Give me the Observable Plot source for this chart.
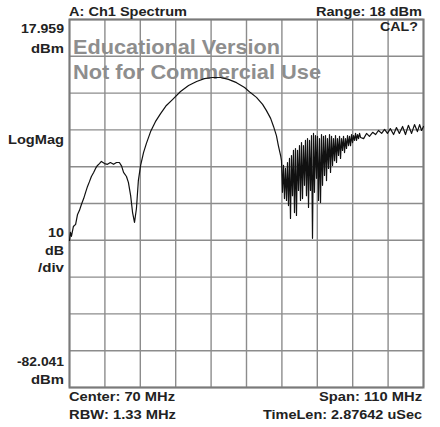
<!DOCTYPE html>
<html><head><meta charset="utf-8">
<script src="https://cdn.jsdelivr.net/npm/d3@7"></script>
<script src="https://cdn.jsdelivr.net/npm/@observablehq/plot@0.6"></script>
<style>
html,body{margin:0;padding:0;background:#fff;}
#chart svg{display:block;}
</style></head>
<body><div id="chart"></div>
<script>
// Frequency (MHz) and level (dBm)
const freqMHz = [
15.0,15.3,15.6,16.2,16.9,17.5,18.1,18.7,19.4,20.0,20.6,21.2,21.8,22.5,23.1,23.7,24.3,24.9,25.9,26.8,27.7,28.7,29.6,30.5,31.2,31.8,32.7,33.3,34.0,34.6,35.2,35.8,36.4,37.1,38.0,38.9,40.2,41.7,43.3,45.1,47.0,49.5,52.0,54.5,56.9,59.4,61.9,64.4,66.9,69.4,71.2,73.1,75.0,76.2,77.5,78.4,79.3,79.9,80.6,
80.87,81.18,81.49,81.80,82.11,82.43,82.74,83.05,83.36,83.67,83.98,84.29,84.60,84.91,85.22,85.53,85.85,86.16,86.47,86.78,
87.09,87.40,87.71,88.02,88.33,88.64,88.96,89.27,89.58,89.89,90.20,90.51,90.82,91.13,91.44,91.75,92.06,92.38,92.69,93.00,
93.31,93.62,93.93,94.24,94.55,94.86,95.17,95.49,95.80,96.11,96.42,96.73,97.04,97.35,97.66,97.97,98.28,98.60,98.91,99.22,
99.53,99.84,100.15,100.46,100.77,101.08,101.39,101.71,102.02,102.33,102.64,102.95,103.26,103.57,103.88,104.19,104.50,104.82,105.13,105.44,
106.4,107.3,108.2,109.2,110.1,111.0,112.0,112.9,113.8,114.7,115.7,116.6,117.5,118.5,119.4,120.3,121.3,122.2,123.1,123.8,124.4,125.0];
const levelDBm = [
-42.1,-39.9,-41.0,-38.3,-37.7,-35.0,-33.9,-32.3,-30.7,-29.0,-27.4,-26.1,-24.7,-23.6,-22.5,-21.7,-21.2,-20.6,-21.2,-21.4,-20.9,-21.4,-20.9,-20.9,-21.9,-23.6,-24.7,-26.3,-29.9,-34.5,-37.2,-33.4,-25.8,-21.7,-18.2,-15.7,-12.5,-9.8,-7.6,-5.4,-3.8,-1.6,0.0,1.1,1.9,2.2,2.2,1.7,0.8,-0.5,-1.9,-3.2,-5.1,-6.8,-8.9,-11.1,-13.6,-16.3,-19.0,
-20.4,-29.0,-21.7,-30.7,-22.5,-31.2,-20.9,-32.6,-19.8,-36.1,-19.0,-29.9,-17.6,-34.5,-17.1,-35.3,-17.6,-28.5,-16.3,-31.2,
-15.5,-30.7,-16.3,-27.1,-14.9,-29.9,-14.4,-33.1,-14.9,-28.5,-13.6,-41.5,-13.0,-29.0,-13.6,-25.2,-13.8,-31.2,-14.4,-31.8,
-13.3,-27.1,-13.8,-24.4,-13.6,-25.8,-14.4,-22.5,-13.3,-23.6,-13.8,-21.7,-14.4,-20.4,-13.6,-20.9,-14.4,-19.0,-13.8,-19.8,
-14.4,-17.6,-13.8,-18.2,-14.4,-17.1,-13.6,-16.3,-13.8,-16.3,-13.3,-15.5,-13.6,-14.9,-13.0,-14.9,-13.3,-14.4,-13.0,-14.1,
-14.4,-13.0,-13.8,-12.7,-13.3,-12.2,-13.0,-11.9,-13.0,-11.7,-13.3,-11.4,-13.0,-11.1,-13.3,-10.8,-13.0,-10.6,-12.5,-10.6,-12.2,-11.1];

const xGrid = [15,26,37,48,59,70,81,92,103,114,125];
const yGrid = [17.959,7.959,-2.041,-12.041,-22.041,-32.041,-42.041,-52.041,-62.041,-72.041,-82.041];

const headerLeft = "A: Ch1 Spectrum";
const headerRight = "Range: 18 dBm";
const topLabel = ["17.959","dBm"];
const midLabel = "LogMag";
const scaleLabel = ["10","dB","/div"];
const bottomLabel = ["-82.041","dBm"];
const calLabel = "CAL?";
const watermark = ["Educational Version","Not for Commercial Use"];
const footer = ["Center: 70 MHz","Span: 110 MHz","RBW: 1.33 MHz","TimeLen: 2.87642 uSec"];

const data = freqMHz.map((f,i)=>({f, v: levelDBm[i]}));

const plot = Plot.plot({
  width: 440, height: 427,
  marginLeft: 69, marginRight: 17, marginTop: 19, marginBottom: 40,
  x: {domain: [15,125], axis: null},
  y: {domain: [-82.041, 17.959], axis: null},
  style: {background: "#fff", fontFamily: "Liberation Sans, Arial, sans-serif"},
  marks: [
    Plot.ruleX(xGrid, {stroke: "#8c8c8c", strokeWidth: 1.4}),
    Plot.ruleY(yGrid, {stroke: "#8c8c8c", strokeWidth: 1.4}),
    Plot.frame({stroke: "#7a7a7a", strokeWidth: 2}),
    Plot.line(data, {x: "f", y: "v", stroke: "#111", strokeWidth: 1.2, curve: "linear"})
  ]
});
document.getElementById("chart").appendChild(plot);

const svg = d3.select(plot);
function label(txt, x, y, opts = {}) {
  const t = (opts.under ? svg.insert("text", ":first-child") : svg.append("text"))
    .attr("x", x).attr("y", y)
    .attr("text-anchor", opts.anchor || "start")
    .attr("font-family", "Liberation Sans, Arial, sans-serif")
    .attr("font-weight", "bold")
    .attr("font-size", opts.size || 13)
    .attr("fill", opts.fill || "#222")
    .text(txt);
  if (opts.len) t.attr("textLength", opts.len).attr("lengthAdjust", "spacingAndGlyphs");
  return t;
}
label(headerLeft, 69, 16, {len: 118});
label(headerRight, 422, 16, {anchor: "end", len: 106});
label(topLabel[0], 64, 33, {anchor: "end", len: 43});
label(topLabel[1], 64, 53, {anchor: "end", len: 33});
label(calLabel, 418, 31, {anchor: "end", len: 38});
label(midLabel, 64, 144, {anchor: "end", len: 56});
label(scaleLabel[0], 64, 237, {anchor: "end", len: 16});
label(scaleLabel[1], 64, 255, {anchor: "end", len: 19});
label(scaleLabel[2], 64, 272, {anchor: "end", len: 26});
label(bottomLabel[0], 64, 366, {anchor: "end", len: 47});
label(bottomLabel[1], 64, 384, {anchor: "end", len: 33});
label(watermark[0], 73, 54, {size: 21, fill: "#8e8e8e", len: 207, under: true});
label(watermark[1], 73, 79, {size: 21, fill: "#8e8e8e", len: 248, under: true});
label(footer[0], 69, 401, {len: 106});
label(footer[1], 422, 401, {anchor: "end", len: 103});
label(footer[2], 69, 419, {len: 107});
label(footer[3], 422, 419, {anchor: "end", len: 159});
</script>
</body></html>
